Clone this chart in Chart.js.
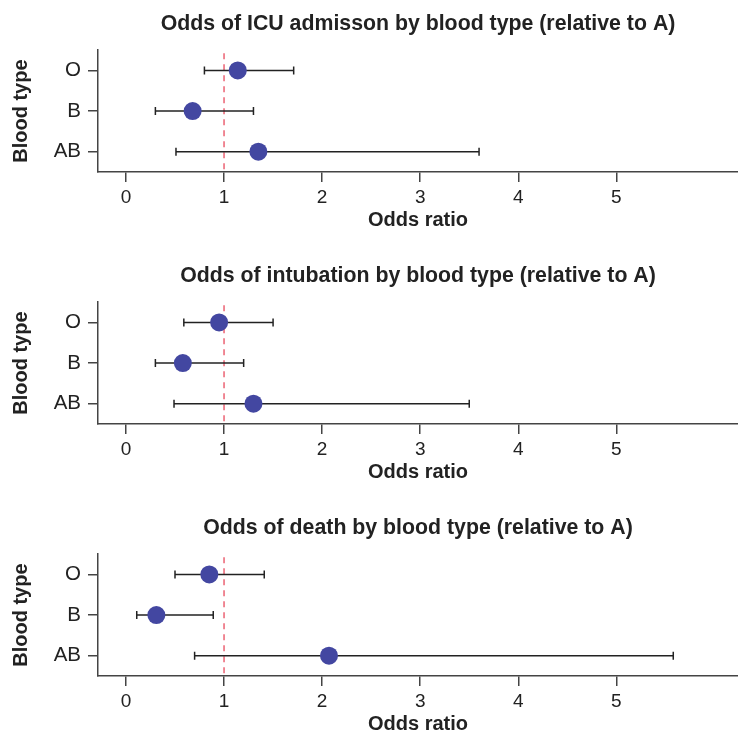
<!DOCTYPE html>
<html>
<head>
<meta charset="utf-8">
<script src="https://cdn.jsdelivr.net/npm/chart.js@4.4.0/dist/chart.umd.min.js"></script>
<style>
  html, body { margin: 0; padding: 0; background: #ffffff; overflow: hidden; width: 738px; height: 734px; }
  .panel { position: absolute; left: 0; width: 738px; height: 252px; }
</style>
</head>
<body>
<div class="panel" style="top:0px"><canvas id="c1" width="738" height="252"></canvas></div>
<div class="panel" style="top:252px"><canvas id="c2" width="738" height="252"></canvas></div>
<div class="panel" style="top:504px"><canvas id="c3" width="738" height="252"></canvas></div>
<script>
// ---- data ----
const categories = ['O', 'B', 'AB'];
const xTickValues = [0, 1, 2, 3, 4, 5];
const referenceOR = 1;

const titles = [
  'Odds of ICU admisson by blood type (relative to A)',
  'Odds of intubation by blood type (relative to A)',
  'Odds of death by blood type (relative to A)'
];

const icuOR   = [1.14, 0.68, 1.35];
const icuLow  = [0.80, 0.30, 0.51];
const icuHigh = [1.71, 1.30, 3.60];

const intubOR   = [0.95, 0.58, 1.30];
const intubLow  = [0.59, 0.30, 0.49];
const intubHigh = [1.50, 1.20, 3.50];

const deathOR   = [0.85, 0.31, 2.07];
const deathLow  = [0.50, 0.11, 0.70];
const deathHigh = [1.41, 0.89, 5.58];

// ---- styling ----
const FONT = "'Liberation Sans', Arial, Helvetica, sans-serif";
const TEXT = '#222222';
const AXIS = '#444444';
const POINT = '#4347a1';
const DASH = 'rgba(232, 70, 90, 0.85)';

const refLinePlugin = {
  id: 'refLine',
  beforeDatasetsDraw(chart) {
    const x = chart.scales.x.getPixelForValue(referenceOR);
    const { top, bottom } = chart.chartArea;
    const ctx = chart.ctx;
    ctx.save();
    ctx.strokeStyle = DASH;
    ctx.lineWidth = 1.5;
    ctx.setLineDash([6, 5]);
    ctx.beginPath();
    ctx.moveTo(x, top + 3);
    ctx.lineTo(x, bottom);
    ctx.stroke();
    ctx.restore();
  }
};

function makeChart(id, title, or, low, high) {
  const datasets = [];
  datasets.push({
    label: 'OR',
    data: categories.map((c, i) => ({ x: or[i], y: c })),
    showLine: false,
    pointRadius: 9,
    pointHoverRadius: 9,
    pointBackgroundColor: POINT,
    pointBorderColor: POINT,
    pointBorderWidth: 0,
    order: 0
  });
  categories.forEach((c, i) => {
    datasets.push({
      label: 'CI ' + c,
      data: [{ x: low[i], y: c }, { x: high[i], y: c }],
      showLine: true,
      borderColor: '#222222',
      borderWidth: 1.5,
      pointStyle: 'line',
      pointRotation: 90,
      pointRadius: 4,
      pointHoverRadius: 4,
      pointBorderColor: '#222222',
      pointBorderWidth: 1.5,
      order: 1
    });
  });

  return new Chart(document.getElementById(id), {
    type: 'scatter',
    data: { datasets },
    plugins: [refLinePlugin],
    options: {
      responsive: false,
      animation: false,
      events: [],
      layout: { autoPadding: false, padding: { left: 9, right: 0, top: 0, bottom: 20 } },
      plugins: {
        legend: { display: false },
        tooltip: { enabled: false },
        title: {
          display: true,
          text: title,
          fullSize: false,
          color: TEXT,
          font: { family: FONT, size: 21.3, weight: 'bold', lineHeight: 1.2 },
          padding: { top: 11.6, bottom: 13.0 }
        }
      },
      scales: {
        x: {
          type: 'linear',
          min: -0.285,
          max: 6.24,
          afterBuildTicks: s => { s.ticks = xTickValues.map(v => ({ value: v })); },
          afterFit: s => { s.height = 60; s.paddingLeft = 0; s.paddingRight = 0; },
          grid: { display: true, drawOnChartArea: false, drawTicks: true, tickLength: 10, color: AXIS, lineWidth: 1.5 },
          border: { display: true, color: AXIS, width: 1.5 },
          ticks: { color: TEXT, font: { family: FONT, size: 19 }, padding: 4, maxRotation: 0, autoSkip: false },
          title: { display: true, text: 'Odds ratio', color: TEXT, font: { family: FONT, size: 20, weight: 'bold', lineHeight: 1.2 }, padding: 0 }
        },
        y: {
          type: 'category',
          labels: categories,
          offset: true,
          afterFit: s => { s.width = 89; s.paddingTop = 0; s.paddingBottom = 0; },
          grid: { display: true, drawOnChartArea: false, drawTicks: true, tickLength: 10, color: AXIS, lineWidth: 1.5, offset: false },
          border: { display: true, color: AXIS, width: 1.5 },
          ticks: { color: TEXT, font: { family: FONT, size: 20.5 }, padding: 7 },
          title: { display: true, text: 'Blood type', color: TEXT, font: { family: FONT, size: 20, weight: 'bold', lineHeight: 1.2 }, padding: 0 }
        }
      }
    }
  });
}

makeChart('c1', titles[0], icuOR, icuLow, icuHigh);
makeChart('c2', titles[1], intubOR, intubLow, intubHigh);
makeChart('c3', titles[2], deathOR, deathLow, deathHigh);
</script>
</body>
</html>
